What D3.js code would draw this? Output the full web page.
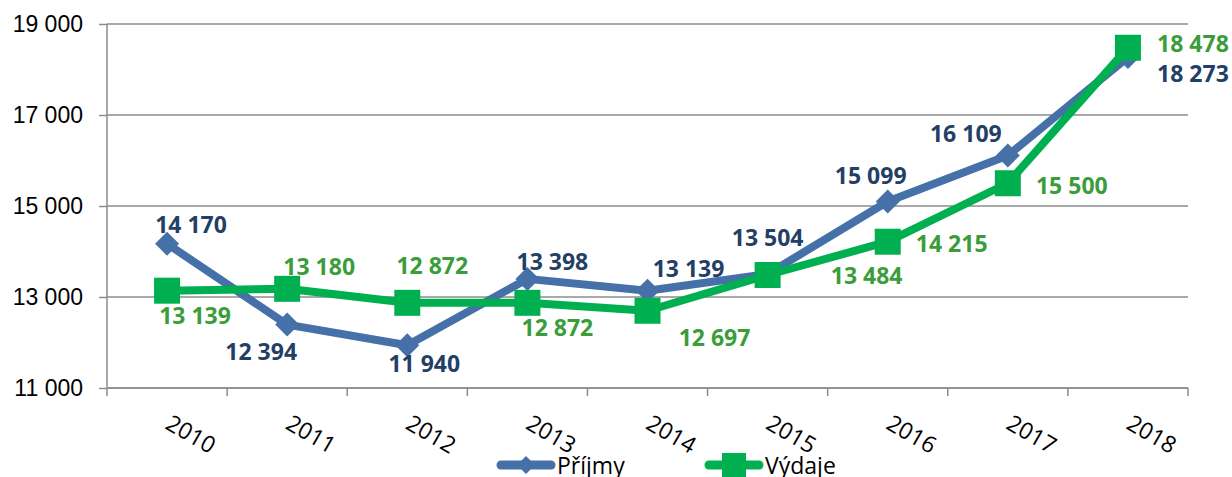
<!DOCTYPE html>
<html>
  <head>
    <meta charset="utf-8">
    <style>
      body { margin: 0; background: #fff; }
      svg { font-family: "Open Sans", "Liberation Sans", sans-serif; }
      .grid line { stroke: #8c8c8c; stroke-width: 1.5; }
      .axis path, .axis line { stroke: #8c8c8c; stroke-width: 1.5; }
      .axis text { fill: #000; font-size: 23px; }
    </style>
    <script src="https://d3js.org/d3.v7.min.js"></script>
  </head>
  <body>
    <svg id="chart" width="1232" height="477"></svg>

    <script>
      var years = ["2010", "2011", "2012", "2013", "2014", "2015", "2016", "2017", "2018"];
      var prijmy = [14170, 12394, 11940, 13398, 13139, 13504, 15099, 16109, 18273];
      var vydaje = [13139, 13180, 12872, 12872, 12697, 13484, 14215, 15500, 18478];
      var yTicks = [11000, 13000, 15000, 17000, 19000];

      // label offsets from the point (layout only)
      var prijmyLabelOffsets = [[24, -20], [-26, 26], [17, 18], [25, -18], [41, -23], [0, -37], [-17, -26], [-42, -23], [65, 16]];
      var vydajeLabelOffsets = [[28, 24], [32, -23], [25, -38], [30, 24], [67, 26], [99, 0], [64, 1], [64, 2], [65, -5]];

      var svg = d3.select("#chart");
      var plotLeft = 107, plotRight = 1188, plotTop = 24, plotBottom = 388;

      var x = d3.scaleBand().domain(years).range([plotLeft, plotRight]);
      var y = d3.scaleLinear().domain([11000, 19000]).range([plotBottom, plotTop]);
      var fmt = function(v) { return d3.format(",")(v).replace(",", " "); };

      // gridlines
      svg.append("g").attr("class", "grid")
        .selectAll("line").data(yTicks).join("line")
        .attr("x1", plotLeft).attr("x2", plotRight)
        .attr("y1", d => y(d)).attr("y2", d => y(d));

      // y axis
      var yAxis = svg.append("g").attr("class", "axis")
        .attr("transform", "translate(" + plotLeft + ",0)")
        .call(d3.axisLeft(y).tickValues(yTicks).tickSize(8).tickPadding(16).tickFormat(fmt));
      yAxis.select(".domain").attr("d", "M0," + plotTop + "V" + plotBottom);

      // x axis: ticks at category boundaries
      var xg = svg.append("g").attr("class", "axis");
      xg.append("line").attr("x1", plotLeft).attr("x2", plotRight).attr("y1", plotBottom).attr("y2", plotBottom);
      xg.selectAll("line.tk").data(years.concat(["end"])).join("line").attr("class", "tk")
        .attr("x1", (d, i) => plotLeft + i * x.bandwidth())
        .attr("x2", (d, i) => plotLeft + i * x.bandwidth())
        .attr("y1", plotBottom).attr("y2", plotBottom + 8);
      xg.selectAll("text").data(years).join("text")
        .attr("transform", d => "translate(" + (x(d) + x.bandwidth() / 2 - 3) + "," + (plotBottom + 40) + ") rotate(30)")
        .attr("text-anchor", "start")
        .attr("font-size", 24)
        .text(d => d);

      var cx = d => x(d) + x.bandwidth() / 2;

      function drawSeries(values, color, labelColor, offsets, marker) {
        var line = d3.line().x((d, i) => cx(years[i])).y(d => y(d));
        svg.append("path").datum(values)
          .attr("d", line)
          .attr("fill", "none")
          .attr("stroke", color)
          .attr("stroke-width", 8)
          .attr("stroke-linejoin", "round");
        svg.append("g").selectAll("path").data(values).join("path")
          .attr("transform", (d, i) => "translate(" + cx(years[i]) + "," + y(d) + ")")
          .attr("d", marker)
          .attr("fill", color);
        svg.append("g").selectAll("text").data(values).join("text")
          .attr("x", (d, i) => cx(years[i]) + offsets[i][0])
          .attr("y", (d, i) => y(d) + offsets[i][1])
          .attr("text-anchor", "middle")
          .attr("dominant-baseline", "central")
          .attr("font-size", 23)
          .attr("font-weight", "bold")
          .attr("fill", labelColor)
          .text(fmt);
      }

      var diamond = "M0,-12L12,0L0,12L-12,0Z";
      var square = "M-13,-13H13V13H-13Z";

      drawSeries(prijmy, "#4670a8", "#243f66", prijmyLabelOffsets, diamond);
      drawSeries(vydaje, "#00b050", "#3a9d3a", vydajeLabelOffsets, square);

      // legend
      var legend = svg.append("g").attr("transform", "translate(0,465)");
      var items = [
        { name: "Příjmy", color: "#4670a8", marker: "M0,-9L9,0L0,9L-9,0Z", x: 497 },
        { name: "Výdaje", color: "#00b050", marker: "M-12,-12H12V12H-12Z", x: 705 }
      ];
      items.forEach(function(it) {
        legend.append("line").attr("x1", it.x + 4).attr("x2", it.x + 54)
          .attr("y1", 0).attr("y2", 0)
          .attr("stroke", it.color).attr("stroke-width", 9).attr("stroke-linecap", "round");
        legend.append("path").attr("transform", "translate(" + (it.x + 29) + ",0)")
          .attr("d", it.marker).attr("fill", it.color);
        legend.append("text").attr("x", it.x + 60).attr("y", 9)
          .attr("font-size", 23).attr("fill", "#000").text(it.name);
      });
    </script>
  </body>
</html>
